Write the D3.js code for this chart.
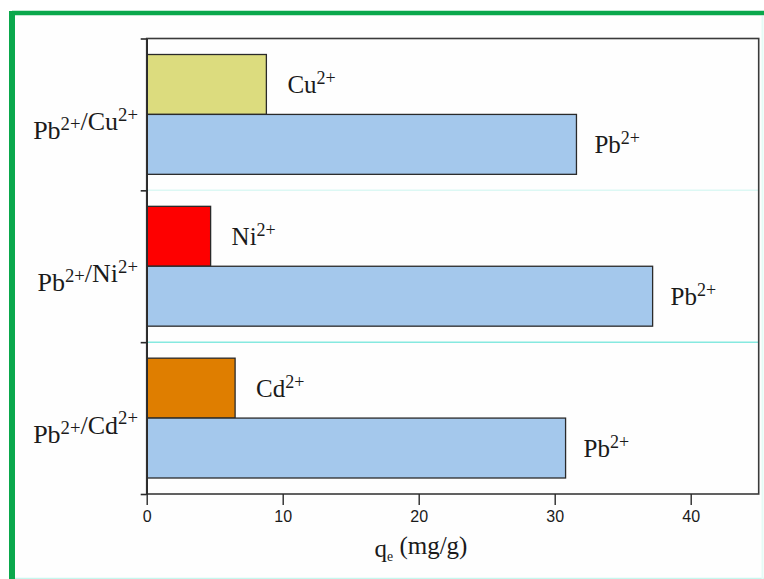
<!DOCTYPE html>
<html>
<head>
<meta charset="utf-8">
<script src="https://cdn.jsdelivr.net/npm/d3@7"></script>
<style>
  html, body { margin: 0; padding: 0; background: #ffffff; }
  svg { display: block; }
</style>
</head>
<body>
<svg id="chart" width="764" height="579"></svg>
<script>
// Competitive adsorption of Pb2+ in binary metal-ion systems
const systems = ["Pb/Cu", "Pb/Ni", "Pb/Cd"];
const partnerIon = ["Cu", "Ni", "Cd"];
const partnerQe = [8.8, 4.7, 6.5];     // qe of the competing ion (mg/g)
const leadQe = [31.6, 37.2, 30.8];     // qe of Pb2+ in the same system (mg/g)
const partnerColors = ["#dcdc7e", "#fe0000", "#df7e00"];
const leadColor = "#a4c8ec";
const xTicks = [0, 10, 20, 30, 40];

const svg = d3.select("#chart");
const W = 764, H = 579;

// outer panel: green on the top and left, faint cyan on the other sides
svg.append("rect").attr("x", 0).attr("y", 0).attr("width", W).attr("height", H).attr("fill", "#ffffff");
svg.append("rect").attr("x", 9).attr("y", 11).attr("width", W - 9).attr("height", H - 11).attr("fill", "#fefefe");
svg.append("line").attr("x1", 12).attr("x2", W).attr("y1", 13).attr("y2", 13)
  .attr("stroke", "#0aa84c").attr("stroke-width", 4.5);
svg.append("line").attr("x1", 12).attr("x2", 12).attr("y1", 11).attr("y2", H)
  .attr("stroke", "#0aa84c").attr("stroke-width", 6);
svg.append("line").attr("x1", 15).attr("x2", W).attr("y1", H - 0.5).attr("y2", H - 0.5)
  .attr("stroke", "#c8f7ee").attr("stroke-width", 1.5);
svg.append("line").attr("x1", W - 1.5).attr("x2", W - 1.5).attr("y1", 16).attr("y2", H)
  .attr("stroke", "#e4fbf6").attr("stroke-width", 2);

const m = { left: 146.7, right: 758.7, top: 38.5, bottom: 494 };

const x = d3.scaleLinear().domain([0, 45]).range([m.left, m.right]);
const yBand = d3.scaleBand().domain(systems).range([m.top, m.bottom]).padding(0);
const ySub = d3.scaleBand().domain(["partner", "lead"])
  .range([16, yBand.bandwidth() - 16]).padding(0);
const yEdge = d3.scaleLinear().domain([0, systems.length]).range([m.top, m.bottom]);

// separators between the systems
const sepColors = ["#dcf8f4", "#86e9e0"];
svg.append("g").selectAll("line").data([1, 2]).join("line")
  .attr("x1", m.left).attr("x2", m.right)
  .attr("y1", d => yEdge(d)).attr("y2", d => yEdge(d))
  .attr("stroke", (d, i) => sepColors[i]).attr("stroke-width", 1.5);

const rows = systems.map((s, i) => ({
  system: s, ion: partnerIon[i], partner: partnerQe[i], lead: leadQe[i], color: partnerColors[i]
}));

const g = svg.append("g");

// competing-ion bars
g.selectAll("rect.partner").data(rows).join("rect").attr("class", "partner")
  .attr("x", x(0)).attr("y", d => yBand(d.system) + ySub("partner"))
  .attr("width", d => x(d.partner) - x(0)).attr("height", ySub.bandwidth())
  .attr("fill", d => d.color).attr("stroke", "#2a2a2a").attr("stroke-width", 1.3);

// Pb2+ bars
g.selectAll("rect.lead").data(rows).join("rect").attr("class", "lead")
  .attr("x", x(0)).attr("y", d => yBand(d.system) + ySub("lead"))
  .attr("width", d => x(d.lead) - x(0)).attr("height", ySub.bandwidth())
  .attr("fill", leadColor).attr("stroke", "#2a2a2a").attr("stroke-width", 1.3);

// ion label with a superscript charge
function ionText(sel, parts) {
  parts.forEach(p => {
    sel.append("tspan").text(p[0]);
    sel.append("tspan").attr("dy", "-0.5em").attr("font-size", "72%").text(p[1]);
    sel.append("tspan").attr("dy", "0.5em").text("");
  });
}
const serif = "'Liberation Serif', 'Times New Roman', serif";

rows.forEach(d => {
  const t1 = svg.append("text")
    .attr("x", x(d.partner) + 21)
    .attr("y", yBand(d.system) + ySub("partner") + ySub.bandwidth() / 2 + 9)
    .attr("font-family", serif).attr("font-size", 25).attr("fill", "#1a1a1a");
  ionText(t1, [[d.ion, "2+"]]);
  const t2 = svg.append("text")
    .attr("x", x(d.lead) + 18)
    .attr("y", yBand(d.system) + ySub("lead") + ySub.bandwidth() / 2 + 9)
    .attr("font-family", serif).attr("font-size", 25).attr("fill", "#1a1a1a");
  ionText(t2, [["Pb", "2+"]]);
  const t3 = svg.append("text")
    .attr("x", 138).attr("text-anchor", "end")
    .attr("y", yBand(d.system) + yBand.bandwidth() / 2 + 25)
    .attr("font-family", serif).attr("font-size", 26).attr("fill", "#1a1a1a");
  ionText(t3, [["Pb", "2+"], ["/" + d.ion, "2+"]]);
});

// plot frame
svg.append("rect").attr("x", m.left).attr("y", m.top)
  .attr("width", m.right - m.left).attr("height", m.bottom - m.top)
  .attr("fill", "none").attr("stroke", "#3a3a3a").attr("stroke-width", 1.6);

// left axis: ticks at the system boundaries
const yAxis = svg.append("g").attr("transform", `translate(${m.left},0)`)
  .call(d3.axisLeft(yEdge).tickValues([0, 1, 2, 3]).tickFormat("").tickSize(6).tickSizeOuter(0));
yAxis.select(".domain").attr("stroke", "#2a2a2a").attr("stroke-width", 1.6);
yAxis.selectAll(".tick line").attr("stroke", "#2a2a2a").attr("stroke-width", 1.6);

// bottom axis
const xAxis = svg.append("g").attr("transform", `translate(0,${m.bottom})`)
  .call(d3.axisBottom(x).tickValues(xTicks).tickSize(11).tickPadding(6).tickSizeOuter(0));
xAxis.select(".domain").remove();
xAxis.selectAll(".tick line").attr("stroke", "#2a2a2a").attr("stroke-width", 1.4);
xAxis.selectAll(".tick text").attr("font-family", "'Liberation Sans', Arial, sans-serif")
  .attr("font-size", 16).attr("fill", "#1a1a1a");

// axis title: q_e (mg/g)
const title = svg.append("text").attr("x", 421).attr("y", 557).attr("text-anchor", "middle")
  .attr("font-family", serif).attr("font-size", 25).attr("fill", "#1a1a1a");
title.append("tspan").text("q");
title.append("tspan").attr("dy", "0.3em").attr("font-size", "55%").text("e");
title.append("tspan").attr("dy", "-0.3em").text(" (mg/g)");
</script>
</body>
</html>
